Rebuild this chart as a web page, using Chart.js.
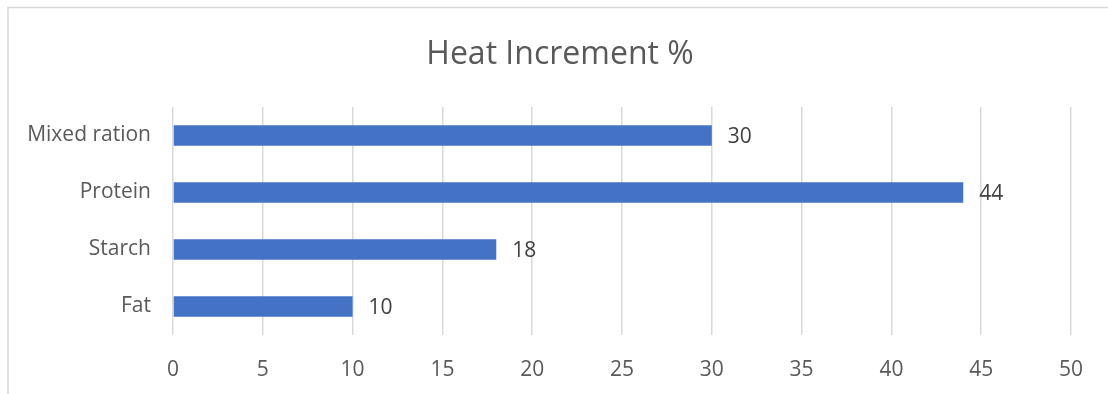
<!DOCTYPE html>
<html>
<head>
<meta charset="utf-8">
<script src="https://cdn.jsdelivr.net/npm/chart.js@4/dist/chart.umd.min.js"></script>
<style>
  html, body { margin: 0; padding: 0; background: #ffffff; }
  #wrap { width: 1108px; height: 394px; position: relative; }
</style>
</head>
<body>
<div id="wrap"><canvas id="chart" width="1108" height="394"></canvas></div>
<script>
// Heat increment by nutrient type (% of energy)
const chartTitle = 'Heat Increment %';
const categories = ['Mixed ration', 'Protein', 'Starch', 'Fat'];
const heatIncrement = [30, 44, 18, 10];
const xTicks = [0, 5, 10, 15, 20, 25, 30, 35, 40, 45, 50];

const FONT = "'Open Sans', sans-serif";
const TEXT = '#595959';
const GRID = '#d9d9d9';

// Outer chart frame and centred title
const framePlugin = {
  id: 'frame',
  beforeDraw(chart) {
    const ctx = chart.ctx;
    ctx.save();
    ctx.strokeStyle = GRID;
    ctx.lineWidth = 1.5;
    ctx.strokeRect(8, 7.5, chart.width + 20, chart.height + 20);
    ctx.font = "32px " + FONT;
    ctx.fillStyle = TEXT;
    ctx.textAlign = 'center';
    ctx.textBaseline = 'middle';
    ctx.fillText(chartTitle, 560, 55);
    ctx.restore();
  }
};

// Value labels to the right of each bar
const valueLabels = {
  id: 'valueLabels',
  afterDatasetsDraw(chart) {
    const ctx = chart.ctx;
    const meta = chart.getDatasetMeta(0);
    ctx.save();
    ctx.font = "21px " + FONT;
    ctx.fillStyle = '#404040';
    ctx.textAlign = 'left';
    ctx.textBaseline = 'middle';
    meta.data.forEach((bar, i) => {
      ctx.fillText(String(heatIncrement[i]), bar.x + 16, bar.y + 2);
    });
    ctx.restore();
  }
};

new Chart(document.getElementById('chart'), {
  type: 'bar',
  data: {
    labels: categories,
    datasets: [{
      data: heatIncrement,
      backgroundColor: '#4472c4',
      borderWidth: 0,
      barPercentage: 0.7,
      categoryPercentage: 0.52
    }]
  },
  options: {
    indexAxis: 'y',
    responsive: false,
    animation: false,
    devicePixelRatio: 1,
    layout: { padding: { left: 0, right: 37, top: 107, bottom: 0 } },
    plugins: {
      legend: { display: false },
      tooltip: { enabled: false },
      title: { display: false }
    },
    scales: {
      x: {
        min: 0,
        max: 50,
        afterBuildTicks(scale) { scale.ticks = xTicks.map(v => ({ value: v })); },
        afterFit(scale) { scale.height = 394 - 335; },
        grid: { color: GRID, lineWidth: 1.5, drawTicks: false },
        border: { display: false },
        ticks: { color: TEXT, font: { family: FONT, size: 21 }, padding: 22 }
      },
      y: {
        afterFit(scale) { scale.width = 173; },
        grid: { display: false },
        border: { display: false },
        ticks: { color: TEXT, font: { family: FONT, size: 21 }, padding: 14 }
      }
    }
  },
  plugins: [framePlugin, valueLabels]
});
</script>
</body>
</html>
